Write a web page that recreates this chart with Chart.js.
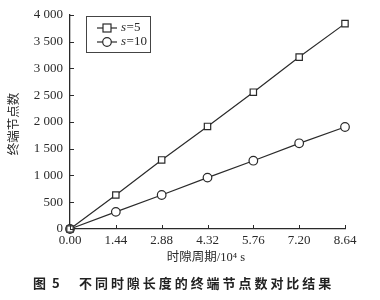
<!DOCTYPE html>
<html><head><meta charset="utf-8">
<script src="https://cdn.jsdelivr.net/npm/chart.js@4/dist/chart.umd.min.js"></script>
<style>html,body{margin:0;padding:0;background:#fff;}canvas{display:block;}</style>
</head><body>
<canvas id="c" width="380" height="300"></canvas>
<script>
const xTicks = [0, 1.44, 2.88, 4.32, 5.76, 7.20, 8.64];
const xLabels = ['0.00', '1.44', '2.88', '4.32', '5.76', '7.20', '8.64'];
const yTicks = [0, 500, 1000, 1500, 2000, 2500, 3000, 3500, 4000];
const yLabels = ['0', '500', '1 000', '1 500', '2 000', '2 500', '3 000', '3 500', '4 000'];
const s5 = [0, 635, 1290, 1915, 2555, 3210, 3835];
const s10 = [0, 320, 635, 960, 1275, 1600, 1905];
const seriesNames = ['=5', '=10'];
const xTitle = '时隙周期/10⁴ s';
const yTitle = '终端节点数';
const captionFig = '图';
const captionNum = '5';
const captionText = '不同时隙长度的终端节点数对比结果';

const SERIF = '"Liberation Serif", "Noto Sans CJK SC", serif';
const INK = '#2a2a2a';

const extras = {
  id: 'extras',
  afterDraw(chart) {
    const ctx = chart.ctx;
    const xs = chart.scales.x, ys = chart.scales.y;
    const a = chart.chartArea;
    ctx.save();
    // inward ticks
    ctx.strokeStyle = INK; ctx.lineWidth = 1;
    xTicks.forEach(v => {
      const px = Math.round(xs.getPixelForValue(v)) + 0.5;
      ctx.beginPath(); ctx.moveTo(px, a.bottom); ctx.lineTo(px, a.bottom - 4); ctx.stroke();
    });
    yTicks.forEach(v => {
      const py = Math.round(ys.getPixelForValue(v)) + 0.5;
      ctx.beginPath(); ctx.moveTo(a.left, py); ctx.lineTo(a.left + 4, py); ctx.stroke();
    });
    // legend
    ctx.strokeStyle = '#444'; ctx.lineWidth = 1;
    ctx.strokeRect(86.5, 16.5, 64, 36);
    const styles = ['rect', 'circle'];
    [28, 42].forEach((y, i) => {
      ctx.strokeStyle = INK; ctx.lineWidth = 1.2;
      ctx.beginPath(); ctx.moveTo(97, y); ctx.lineTo(117, y); ctx.stroke();
      ctx.fillStyle = '#fff';
      if (styles[i] === 'rect') {
        ctx.fillRect(103, y - 4, 8, 8); ctx.strokeRect(103, y - 4, 8, 8);
      } else {
        ctx.beginPath(); ctx.arc(107, y, 4.3, 0, Math.PI * 2); ctx.fill(); ctx.stroke();
      }
      ctx.fillStyle = INK; ctx.textBaseline = 'middle'; ctx.textAlign = 'left';
      ctx.font = 'italic 13px ' + SERIF;
      ctx.fillText('s', 121, y);
      const w = ctx.measureText('s').width;
      ctx.font = '13px ' + SERIF;
      ctx.fillText(seriesNames[i], 121 + w + 0.5, y);
    });
    // x title
    ctx.fillStyle = INK; ctx.font = '12.5px ' + SERIF;
    ctx.textAlign = 'center'; ctx.textBaseline = 'middle';
    ctx.fillText(xTitle, 206, 258);
    // y title
    ctx.save();
    ctx.translate(15, 124); ctx.rotate(-Math.PI / 2);
    ctx.font = '12.5px ' + SERIF;
    ctx.fillText(yTitle, 0, 0);
    ctx.restore();
    // caption
    ctx.fillStyle = '#222'; ctx.font = 'bold 13px "Noto Sans CJK SC", sans-serif';
    ctx.textAlign = 'left';
    ctx.fillText(captionFig, 33, 283);
    ctx.fillText(captionNum, 52, 283);
    let cx = 79;
    for (const ch of captionText) { ctx.fillText(ch, cx, 283); cx += 15.95; }
    ctx.restore();
  }
};

new Chart(document.getElementById('c'), {
  type: 'line',
  data: {
    datasets: [
      { label: 's=5', data: xTicks.map((x, i) => ({ x, y: s5[i] })), borderColor: INK, borderWidth: 1.2,
        pointStyle: 'rect', pointRadius: 4.5, pointBackgroundColor: '#fff', pointBorderColor: INK, pointBorderWidth: 1.2, clip: false },
      { label: 's=10', data: xTicks.map((x, i) => ({ x, y: s10[i] })), borderColor: INK, borderWidth: 1.2,
        pointStyle: 'circle', pointRadius: 4.3, pointBackgroundColor: '#fff', pointBorderColor: INK, pointBorderWidth: 1.2, clip: false }
    ]
  },
  options: {
    responsive: false, animation: false, devicePixelRatio: 1,
    layout: { padding: { top: 13, right: 35, bottom: 0, left: 0 } },
    plugins: { legend: { display: false }, tooltip: { enabled: false } },
    scales: {
      x: {
        type: 'linear', min: 0, max: 8.64,
        afterBuildTicks: s => { s.ticks = xTicks.map(v => ({ value: v })); },
        afterFit: s => { s.height = 71; },
        ticks: { callback: (v, i) => xLabels[i], color: INK, font: { family: SERIF, size: 13 }, padding: 4, maxRotation: 0, autoSkip: false },
        grid: { display: true, drawOnChartArea: false, drawTicks: false },
        border: { display: true, color: INK, width: 1.3 }
      },
      y: {
        type: 'linear', min: 0, max: 4000,
        afterBuildTicks: s => { s.ticks = yTicks.map(v => ({ value: v })); },
        afterFit: s => { s.width = 70; },
        ticks: { callback: (v, i) => yLabels[i], color: INK, font: { family: SERIF, size: 13 }, padding: 7, autoSkip: false },
        grid: { display: true, drawOnChartArea: false, drawTicks: false },
        border: { display: true, color: INK, width: 1.3 }
      }
    }
  },
  plugins: [extras]
});
</script>
</body></html>
